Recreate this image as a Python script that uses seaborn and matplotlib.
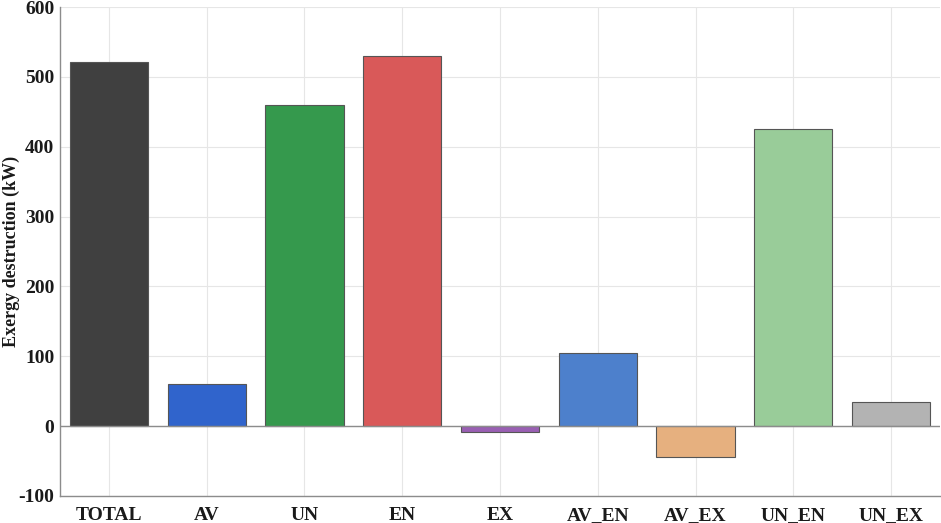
import matplotlib
matplotlib.use("Agg")
import matplotlib.pyplot as plt
import seaborn as sns
import pandas as pd

categories = ["TOTAL", "AV", "UN", "EN", "EX", "AV_EN", "AV_EX", "UN_EN", "UN_EX"]
values = [521, 60, 460, 530, -9, 105, -44, 425, 34]
colors = ["#404040", "#3064cc", "#35994d", "#d95959", "#995fb3", "#4d80cc", "#e6b07f", "#99cc99", "#b3b3b3"]
yticks = [-100, 0, 100, 200, 300, 400, 500, 600]

sns.set_theme(style="white")
plt.rcParams['font.family'] = ['Liberation Serif', 'DejaVu Serif']
plt.rcParams['font.weight'] = 'bold'

df = pd.DataFrame({"cat": categories, "val": values})

fig = plt.figure(figsize=(9.41, 5.23), dpi=100)
ax = fig.add_axes([60/941, 27/523, 880/941, 489/523])

sns.barplot(data=df, x="cat", y="val", hue="cat", palette=colors, legend=False,
            saturation=1, width=0.8, edgecolor="#555555", linewidth=0.8, ax=ax, zorder=3)

ax.axhline(0, color="#8c8c8c", linewidth=1.0, zorder=4)
ax.set_xlim(-0.5, 8.5)
ax.set_ylim(-100, 600)
ax.set_yticks(yticks)
ax.set_yticklabels([str(v) for v in yticks])
ax.grid(True, color="#e6e6e6", linewidth=0.8, zorder=0)
ax.set_axisbelow(True)

for s in ["top", "right"]:
    ax.spines[s].set_visible(False)
for s in ["left", "bottom"]:
    ax.spines[s].set_color("#8c8c8c")
    ax.spines[s].set_linewidth(1.0)

ax.tick_params(axis="both", direction="in", length=6, width=1.0, color="#8c8c8c",
               labelsize=14, labelcolor="#1a1a1a")
ax.tick_params(axis="x", pad=8)
ax.tick_params(axis="y", pad=4)
for lab in ax.get_xticklabels() + ax.get_yticklabels():
    lab.set_fontweight("bold")

ax.set_xlabel("")
ax.set_ylabel("Exergy destruction (kW)", fontsize=13, fontweight="bold", color="#1a1a1a")
ax.yaxis.set_label_coords(-0.046, 0.5)

fig.savefig("out.png", dpi=100)
